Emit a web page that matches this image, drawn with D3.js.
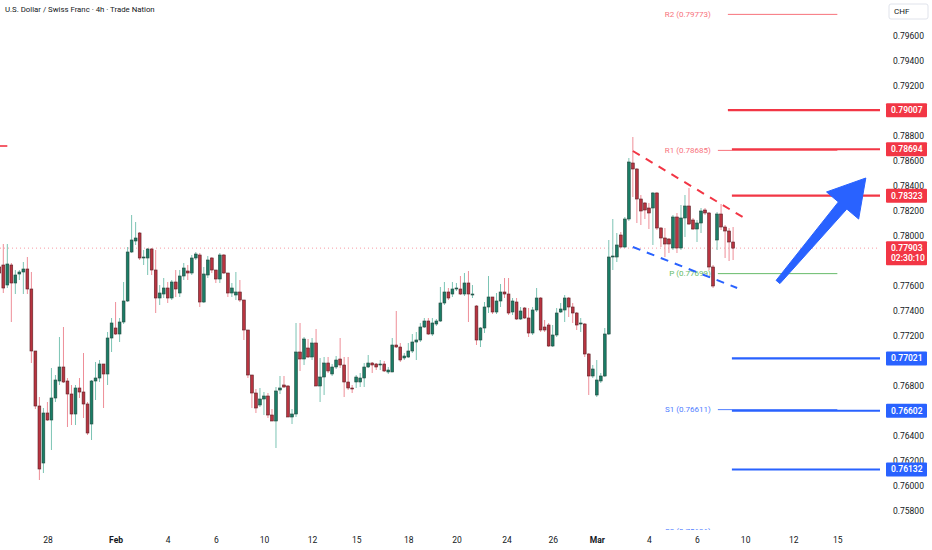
<!DOCTYPE html>
<html>
<head>
<meta charset="utf-8">
<script src="https://cdn.jsdelivr.net/npm/d3@7"></script>
<style>
  body { margin: 0; background: #fff; }
  svg { display: block; font-family: Roboto, "Noto Sans", sans-serif; }
</style>
</head>
<body>
<svg id="chart" width="932" height="550"></svg>
<script>
// 4h candles, [open, high, low, close]
const candles = [
  [0.77752,0.77768,0.77688,0.77704],[0.77768,0.77936,0.77544,0.77584],[0.77608,0.77936,0.77584,0.77776],[0.77768,0.77784,0.77312,0.77624],
  [0.77624,0.77728,0.77536,0.77688],[0.77696,0.77728,0.77648,0.77712],[0.77712,0.77792,0.77536,0.77736],[0.77736,0.77832,0.77536,0.77576],
  [0.77576,0.77712,0.76984,0.77080],[0.77080,0.77080,0.76616,0.76640],[0.76640,0.76712,0.76048,0.76136],[0.76184,0.76624,0.76104,0.76584],
  [0.76584,0.76672,0.76520,0.76528],[0.76528,0.76944,0.76288,0.76704],[0.76704,0.76888,0.76672,0.76848],[0.76840,0.77192,0.76808,0.76952],
  [0.76952,0.77272,0.76824,0.76832],[0.76840,0.76864,0.76472,0.76736],[0.76736,0.76808,0.76488,0.76576],[0.76576,0.76808,0.76488,0.76784],
  [0.76784,0.76864,0.76704,0.76752],[0.76752,0.77064,0.76544,0.76656],[0.76656,0.76672,0.76408,0.76424],[0.76496,0.76848,0.76368,0.76840],
  [0.76840,0.76992,0.76688,0.76864],[0.76864,0.77008,0.76832,0.76976],[0.76976,0.76976,0.76624,0.76896],[0.76896,0.77232,0.76808,0.77184],
  [0.77184,0.77344,0.77072,0.77304],[0.77264,0.77472,0.77208,0.77216],[0.77216,0.77344,0.77152,0.77312],[0.77312,0.77632,0.77296,0.77480],
  [0.77480,0.77912,0.77472,0.77872],[0.77872,0.78168,0.77864,0.77968],[0.77960,0.78112,0.77928,0.77984],[0.78024,0.78032,0.77808,0.77824],
  [0.77824,0.77888,0.77768,0.77832],[0.77824,0.77904,0.77688,0.77896],[0.77896,0.77904,0.77688,0.77728],[0.77728,0.77888,0.77384,0.77504],
  [0.77504,0.77608,0.77448,0.77544],[0.77536,0.77664,0.77504,0.77584],[0.77584,0.77632,0.77464,0.77504],[0.77504,0.77648,0.77488,0.77632],
  [0.77632,0.77728,0.77512,0.77576],[0.77544,0.77728,0.77512,0.77680],[0.77680,0.77784,0.77648,0.77744],[0.77720,0.77768,0.77648,0.77704],
  [0.77704,0.77848,0.77688,0.77824],[0.77824,0.77872,0.77808,0.77856],[0.77848,0.77864,0.77432,0.77472],[0.77472,0.77752,0.77464,0.77696],
  [0.77688,0.77840,0.77664,0.77808],[0.77824,0.77832,0.77704,0.77728],[0.77728,0.77728,0.77624,0.77656],[0.77656,0.77864,0.77624,0.77848],
  [0.77848,0.77856,0.77696,0.77704],[0.77704,0.77704,0.77512,0.77544],[0.77544,0.77624,0.77512,0.77584],[0.77528,0.77712,0.77488,0.77552],
  [0.77552,0.77648,0.77472,0.77488],[0.77488,0.77488,0.77168,0.77248],[0.77248,0.77248,0.76864,0.76888],[0.76888,0.76888,0.76624,0.76744],
  [0.76744,0.76776,0.76584,0.76624],[0.76648,0.76784,0.76632,0.76696],[0.76696,0.76752,0.76568,0.76720],[0.76720,0.76744,0.76544,0.76568],
  [0.76568,0.76616,0.76520,0.76520],[0.76520,0.76792,0.76304,0.76760],[0.76768,0.76880,0.76736,0.76784],[0.76808,0.76880,0.76784,0.76792],
  [0.76800,0.76808,0.76552,0.76552],[0.76552,0.76616,0.76496,0.76576],[0.76576,0.77304,0.76552,0.77072],[0.77072,0.77304,0.76920,0.77016],
  [0.77016,0.77192,0.76968,0.77176],[0.77104,0.77176,0.77024,0.77032],[0.77032,0.77184,0.77008,0.77144],[0.77144,0.77256,0.76800,0.76800],
  [0.76800,0.77024,0.76672,0.76872],[0.76872,0.77032,0.76728,0.76984],[0.76984,0.77032,0.76904,0.76920],[0.76896,0.76976,0.76880,0.76952],
  [0.76952,0.77040,0.76936,0.77008],[0.77016,0.77184,0.76944,0.76968],[0.76968,0.77032,0.76712,0.76832],[0.76832,0.77032,0.76768,0.76784],
  [0.76784,0.76808,0.76744,0.76776],[0.76832,0.76888,0.76784,0.76872],[0.76832,0.76904,0.76792,0.76864],[0.76864,0.76984,0.76792,0.76952],
  [0.76952,0.77048,0.76944,0.76984],[0.76984,0.76992,0.76904,0.76968],[0.76976,0.76984,0.76928,0.76952],[0.76968,0.77008,0.76928,0.76976],
  [0.76976,0.77000,0.76912,0.76920],[0.76912,0.76952,0.76896,0.76928],[0.76912,0.77184,0.76912,0.77128],[0.77128,0.77400,0.77104,0.77112],
  [0.77112,0.77144,0.76992,0.77008],[0.77024,0.77064,0.77008,0.77040],[0.77032,0.77144,0.77024,0.77080],[0.77080,0.77216,0.77064,0.77152],
  [0.77152,0.77232,0.77008,0.77168],[0.77168,0.77304,0.77152,0.77272],[0.77272,0.77344,0.77264,0.77320],[0.77320,0.77344,0.77208,0.77216],
  [0.77216,0.77344,0.77200,0.77304],[0.77296,0.77336,0.77280,0.77320],[0.77320,0.77592,0.77312,0.77464],[0.77464,0.77632,0.77448,0.77552],
  [0.77552,0.77584,0.77488,0.77504],[0.77536,0.77632,0.77512,0.77576],[0.77576,0.77624,0.77560,0.77584],[0.77576,0.77680,0.77528,0.77536],
  [0.77536,0.77704,0.77520,0.77624],[0.77624,0.77720,0.77312,0.77536],[0.77528,0.77608,0.77504,0.77536],[0.77440,0.77448,0.77128,0.77168],
  [0.77168,0.77272,0.77112,0.77264],[0.77264,0.77472,0.77224,0.77432],[0.77432,0.77680,0.77384,0.77512],[0.77512,0.77512,0.77376,0.77392],
  [0.77392,0.77544,0.77376,0.77480],[0.77480,0.77616,0.77432,0.77552],[0.77552,0.77664,0.77504,0.77536],[0.77536,0.77664,0.77368,0.77384],
  [0.77392,0.77504,0.77368,0.77480],[0.77472,0.77504,0.77328,0.77336],[0.77336,0.77432,0.77328,0.77400],[0.77424,0.77432,0.77336,0.77344],
  [0.77344,0.77424,0.77192,0.77224],[0.77224,0.77432,0.77208,0.77408],[0.77408,0.77584,0.77392,0.77504],[0.77504,0.77512,0.77232,0.77248],
  [0.77272,0.77328,0.77232,0.77248],[0.77288,0.77304,0.77112,0.77120],[0.77120,0.77288,0.77112,0.77208],[0.77208,0.77424,0.77192,0.77384],
  [0.77392,0.77464,0.77384,0.77416],[0.77408,0.77528,0.77312,0.77504],[0.77504,0.77512,0.77352,0.77432],[0.77432,0.77464,0.77304,0.77384],
  [0.77384,0.77392,0.77248,0.77288],[0.77296,0.77344,0.77232,0.77304],[0.77296,0.77304,0.77032,0.77056],[0.77056,0.77064,0.76728,0.76880],
  [0.76880,0.76968,0.76864,0.76936],[0.76728,0.77008,0.76712,0.76848],[0.76840,0.76904,0.76824,0.76880],[0.76880,0.77264,0.76872,0.77216],
  [0.77216,0.77968,0.77208,0.77832],[0.77832,0.78136,0.77728,0.77840],[0.77832,0.78024,0.77792,0.77928],[0.78008,0.78032,0.77904,0.77912],
  [0.77912,0.78152,0.77904,0.78136],[0.78136,0.78624,0.78120,0.78592],[0.78584,0.78792,0.78312,0.78536],[0.78536,0.78544,0.78104,0.78296],
  [0.78296,0.78328,0.78088,0.78200],[0.78264,0.78272,0.78136,0.78208],[0.78224,0.78264,0.78056,0.78184],[0.78224,0.78352,0.77928,0.78344],
  [0.78344,0.78352,0.78048,0.78064],[0.78064,0.78072,0.77912,0.77984],[0.77984,0.78064,0.77832,0.77936],[0.77976,0.77984,0.77864,0.77936],
  [0.77904,0.78168,0.77888,0.78152],[0.78152,0.78184,0.77864,0.77904],[0.77904,0.78248,0.77888,0.78144],[0.78144,0.78328,0.77992,0.78240],
  [0.78240,0.78384,0.78088,0.78096],[0.78128,0.78144,0.78048,0.78056],[0.78056,0.78128,0.77952,0.78104],[0.78104,0.78224,0.78024,0.78200],
  [0.78208,0.78224,0.78168,0.78184],[0.78184,0.78192,0.77728,0.77752],[0.77752,0.77768,0.77584,0.77600],[0.77968,0.78192,0.77888,0.78176],
  [0.78176,0.78256,0.78048,0.78072],[0.78072,0.78088,0.77824,0.78040],[0.78040,0.78064,0.77800,0.77952],[0.77952,0.78072,0.77808,0.77903]
];

const priceTicks = d3.range(0, 21).map(k => +(0.758 + k * 0.002).toFixed(3));
const dateTicks = [12, 29, 42, 54, 66, 78, 89, 102, 114, 126.5, 138, 149, 162, 174, 186, 198, 209];
const dateLabels = ["28", "Feb", "4", "6", "10", "12", "15", "18", "20", "24", "26", "Mar", "4", "6", "10", "12", "15"];

const pivotNames = ["R2", "R1", "P", "S1", "S2"];
const pivotValues = [0.79773, 0.78685, 0.77699, 0.76611, 0.75636];
const pivotColors = ["#f7727c", "#f7727c", "#66bb6a", "#4f7dff", "#4f7dff"];
const pivotStart = [181.7, 179.2, 179.2, 179.2, 179.2];
const pivotEnd = 209;

const redLevels = [0.79007, 0.78694, 0.78323];
const blueLevels = [0.77021, 0.76602, 0.76132];
const oldLevel = 0.7872;
const lastPrice = 0.77903;
const countdown = "02:30:10";

const upperTrend = [[158, 0.7868], [186.2, 0.78136]];
const lowerTrend = [[158, 0.77912], [184, 0.77584]];
const arrowFrom = [194.2, 0.77632];
const arrowTo = [216.1, 0.78464];

const title = "U.S. Dollar / Swiss Franc · 4h · Trade Nation";

const UP = "#1a7d66", DOWN = "#b83440";
const UP_WICK = "#7cc4b4", DOWN_WICK = "#ee8e98";
const RED = "#f23645", BLUE = "#2962ff";

const plotRight = 880, plotBottom = 530;
const svg = d3.select("#chart");

const x = d3.scaleLinear().domain([0, 183]).range([-0.7, 733.1]);
const y = d3.scaleLinear().domain([0.758, 0.796]).range([511, 36]);

svg.append("clipPath").attr("id", "plot")
  .append("rect").attr("x", 0).attr("y", 0).attr("width", plotRight).attr("height", plotBottom);

const plot = svg.append("g").attr("clip-path", "url(#plot)");

// last price dotted line
plot.append("line")
  .attr("x1", 0).attr("x2", plotRight)
  .attr("y1", y(lastPrice)).attr("y2", y(lastPrice))
  .attr("stroke", RED).attr("stroke-opacity", 0.5)
  .attr("stroke-dasharray", "1,3");

// leftover level at the left edge
plot.append("line")
  .attr("x1", x(-3)).attr("x2", x(2))
  .attr("y1", y(oldLevel)).attr("y2", y(oldLevel))
  .attr("stroke", RED).attr("stroke-width", 1.6);

// pivot lines + labels (S2 sits below the visible pane, only its top peeks out)
pivotValues.forEach((v, i) => {
  plot.append("line")
    .attr("x1", x(pivotStart[i])).attr("x2", x(pivotEnd))
    .attr("y1", y(v)).attr("y2", y(v))
    .attr("stroke", pivotColors[i]).attr("stroke-width", 1);
  plot.append("text")
    .attr("x", x(179.2) - 7).attr("y", y(v))
    .attr("dy", "0.35em").attr("text-anchor", "end")
    .attr("font-size", 8).attr("fill", pivotColors[i])
    .text(`${pivotNames[i]} (${v.toFixed(5)})`);
});

// support / resistance levels
const levelStart = [181.7, 182.7, 182.7];
redLevels.forEach((v, i) => {
  plot.append("line")
    .attr("x1", x(levelStart[i])).attr("x2", plotRight)
    .attr("y1", y(v)).attr("y2", y(v))
    .attr("stroke", RED).attr("stroke-width", 2.2);
});
blueLevels.forEach(v => {
  plot.append("line")
    .attr("x1", x(182.7)).attr("x2", plotRight)
    .attr("y1", y(v)).attr("y2", y(v))
    .attr("stroke", BLUE).attr("stroke-width", 2.2);
});

// candles
const cg = plot.append("g");
cg.selectAll("line.wick").data(candles).join("line")
  .attr("class", "wick")
  .attr("x1", (d, i) => x(i)).attr("x2", (d, i) => x(i))
  .attr("y1", d => y(d[1])).attr("y2", d => y(d[2]))
  .attr("stroke", d => d[3] >= d[0] ? UP_WICK : DOWN_WICK)
  .attr("stroke-width", 1);
cg.selectAll("rect.body").data(candles).join("rect")
  .attr("class", "body")
  .attr("x", (d, i) => x(i) - 1.4)
  .attr("width", 2.8)
  .attr("y", d => y(Math.max(d[0], d[3])))
  .attr("height", d => Math.max(1, Math.abs(y(d[0]) - y(d[3]))))
  .attr("fill", d => d[3] >= d[0] ? UP : DOWN)
  .attr("stroke", d => d[3] >= d[0] ? "#24463d" : "#5a2026")
  .attr("stroke-width", 0.6);

// dashed channel
[[upperTrend, RED], [lowerTrend, BLUE]].forEach(([pts, c]) => {
  plot.append("line")
    .attr("x1", x(pts[0][0])).attr("y1", y(pts[0][1]))
    .attr("x2", x(pts[1][0])).attr("y2", y(pts[1][1]))
    .attr("stroke", c).attr("stroke-width", 2)
    .attr("stroke-dasharray", "8,7");
});

// big arrow
{
  const ax = x(arrowFrom[0]), ay = y(arrowFrom[1]);
  const bx = x(arrowTo[0]), by = y(arrowTo[1]);
  const len = Math.hypot(bx - ax, by - ay);
  const ux = (bx - ax) / len, uy = (by - ay) / len;
  const nx = -uy, ny = ux;
  const headLen = 36, headW = 21, shaftEnd = 5.5, shaftStart = 2.5;
  const hx = bx - ux * headLen, hy = by - uy * headLen;
  const pts = [
    [ax + nx * shaftStart, ay + ny * shaftStart],
    [hx + nx * shaftEnd, hy + ny * shaftEnd],
    [hx + nx * headW, hy + ny * headW],
    [bx, by],
    [hx - nx * headW, hy - ny * headW],
    [hx - nx * shaftEnd, hy - ny * shaftEnd],
    [ax - nx * shaftStart, ay - ny * shaftStart]
  ];
  plot.append("path")
    .attr("d", d3.line()(pts) + "Z")
    .attr("fill", BLUE).attr("stroke", BLUE)
    .attr("stroke-width", 1).attr("stroke-linejoin", "round");
}

// title
svg.append("text")
  .attr("x", 5).attr("y", 12)
  .attr("font-size", 7.8).attr("fill", "#131722")
  .text(title);

// price axis: labels hidden where a price tag sits on top of them
const tagged = redLevels.concat(blueLevels, [lastPrice]);
const visibleTicks = priceTicks.filter(t =>
  y(t) > 22 && !tagged.some(v => Math.abs(y(v) - y(t)) < 6 || (v === lastPrice && y(t) > y(v) && y(t) - y(v) < 18)));
const yAxis = svg.append("g")
  .attr("transform", `translate(${plotRight + 9},0)`)
  .call(d3.axisRight(y).tickValues(visibleTicks).tickSize(0).tickPadding(4).tickFormat(d3.format(".5f")));
yAxis.select(".domain").remove();
yAxis.selectAll("text").attr("font-size", 8.5).attr("fill", "#131722").attr("font-family", "Roboto, sans-serif");

// time axis
const xAxis = svg.append("g")
  .attr("transform", `translate(0,${plotBottom + 5})`)
  .call(d3.axisBottom(x).tickValues(dateTicks).tickSize(0).tickPadding(2).tickFormat((d, i) => dateLabels[i]));
xAxis.select(".domain").remove();
xAxis.selectAll("text")
  .attr("font-size", 8.5).attr("fill", "#131722").attr("font-family", "Roboto, sans-serif")
  .attr("font-weight", (d, i) => isNaN(+dateLabels[i]) ? 700 : 400);

// currency box
svg.append("rect")
  .attr("x", 889).attr("y", 4).attr("width", 39).attr("height", 15)
  .attr("fill", "#fff").attr("stroke", "#e0e3eb").attr("rx", 2);
svg.append("text")
  .attr("x", 894).attr("y", 11.5).attr("dy", "0.35em")
  .attr("font-size", 8).attr("fill", "#131722").text("CHF");

// level price tags
function tag(v, color, lines) {
  const h = 14 + (lines.length - 1) * 10;
  svg.append("rect")
    .attr("x", 886).attr("y", y(v) - 7).attr("width", 41).attr("height", h)
    .attr("fill", color).attr("rx", 1);
  lines.forEach((t, k) => {
    svg.append("text")
      .attr("x", 891).attr("y", y(v) + k * 10).attr("dy", "0.35em")
      .attr("font-size", 8.5).attr("font-weight", 600).attr("fill", "#fff")
      .text(t);
  });
}
redLevels.forEach(v => tag(v, RED, [v.toFixed(5)]));
blueLevels.forEach(v => tag(v, BLUE, [v.toFixed(5)]));
tag(lastPrice, RED, [lastPrice.toFixed(5), countdown]);
</script>
</body>
</html>
